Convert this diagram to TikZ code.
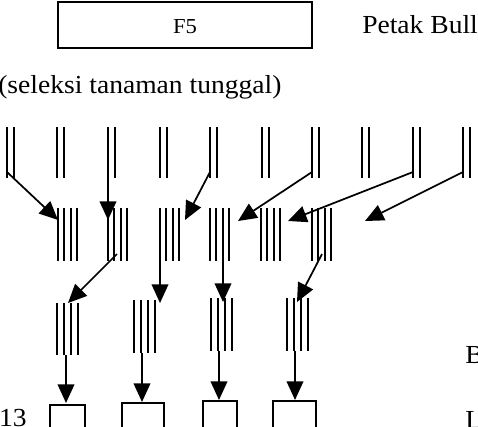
\documentclass[tikz,border=0pt]{standalone}
\usepackage{fontspec}
\setmainfont{Liberation Serif}[FakeStretch=1.06]
\usetikzlibrary{arrows.meta}
\begin{document}
\begin{tikzpicture}[x=0.75pt,y=-0.75pt,
  grate/.style={line width=1.5pt},
  arr/.style={line width=1.3pt,-{Triangle[length=14pt,width=12.5pt]}},
  boxline/.style={draw,line width=1.5pt,inner sep=0pt},
  lab/.style={inner sep=0pt,font=\fontsize{19.5}{22}\selectfont},
  small/.style={inner sep=0pt,font=\fontsize{16}{18}\selectfont}]
\useasboundingbox (0,0) rectangle (478,426);
\fill[white] (0,0) rectangle (478,426);
\clip (0,0) rectangle (478,426);

% top box
\node[boxline,minimum width=190.5pt,minimum height=34.5pt] (f5box) at (185,25) {};
\node[small,anchor=base] (f5) at (185,33) {F5};
\node[lab,anchor=base west] (petak) at (362,33) {Petak Bull};
\node[lab,anchor=base west] (seleksi) at (-2,93) {(seleksi tanaman tunggal)};

% row 1 : pairs
\foreach \x in {7,57,108,160,210,262,312,362,413,463}{
  \draw[grate] (\x,127) -- (\x,178);
  \draw[grate] (\x+6.5,127) -- (\x+6.5,178);
}
% row 2 : groups of four
\foreach \s in {58,108,160,210,261,312}{
  \foreach \d in {0,6.3,12.7,19}{
    \draw[grate] (\s+\d,208) -- (\s+\d,261);
  }
}
% row 3 : groups of four
\foreach \s/\t/\b in {57/303/355,134/300/353,211/298/351,287/298/351}{
  \foreach \d in {0,6.5,13.5,20.5}{
    \draw[grate] (\s+\d,\t) -- (\s+\d,\b);
  }
}

% bottom boxes
\node[boxline,anchor=north west,minimum width=26.25pt,minimum height=33pt] (r1) at (49,404) {};
\node[boxline,anchor=north west,minimum width=31.5pt,minimum height=33pt] (r2) at (121,402) {};
\node[boxline,anchor=north west,minimum width=25.5pt,minimum height=33pt] (r3) at (202,400) {};
\node[boxline,anchor=north west,minimum width=32.25pt,minimum height=33pt] (r4) at (272,400) {};

% texts
\node[lab,anchor=base east] (t13) at (27,426) {13};
\node[lab,anchor=base west] (tb) at (465,363) {B};
\node[lab,anchor=base west] (tl) at (465,428) {L};

% connector points
\coordinate (a1s) at (7,172);   \coordinate (a1e) at (58,220);
\coordinate (a2s) at (108,172); \coordinate (a2e) at (108,220);
\coordinate (a3s) at (210,172); \coordinate (a3e) at (185,220);
\coordinate (a4s) at (312,172); \coordinate (a4e) at (238,221);
\coordinate (a5s) at (413,172); \coordinate (a5e) at (288,221);
\coordinate (a6s) at (463,172); \coordinate (a6e) at (365,221);

\coordinate (b1s) at (117,254); \coordinate (b1e) at (68,303);
\coordinate (b2s) at (160,255); \coordinate (b2e) at (160,303);
\coordinate (b3s) at (223,253); \coordinate (b3e) at (223,302);
\coordinate (b4s) at (322,254); \coordinate (b4e) at (297,302);

\coordinate (c1s) at (66,355);  \coordinate (c1e) at (66,403);
\coordinate (c2s) at (142,353); \coordinate (c2e) at (142,402);
\coordinate (c3s) at (219,351); \coordinate (c3e) at (219,400);
\coordinate (c4s) at (295,351); \coordinate (c4e) at (295,400);

\foreach \n in {a1,a2,a3,a4,a5,a6,b1,b2,b3,b4,c1,c2,c3,c4}{
  \draw[arr] (\n s) -- (\n e);
}
\end{tikzpicture}
\end{document}
